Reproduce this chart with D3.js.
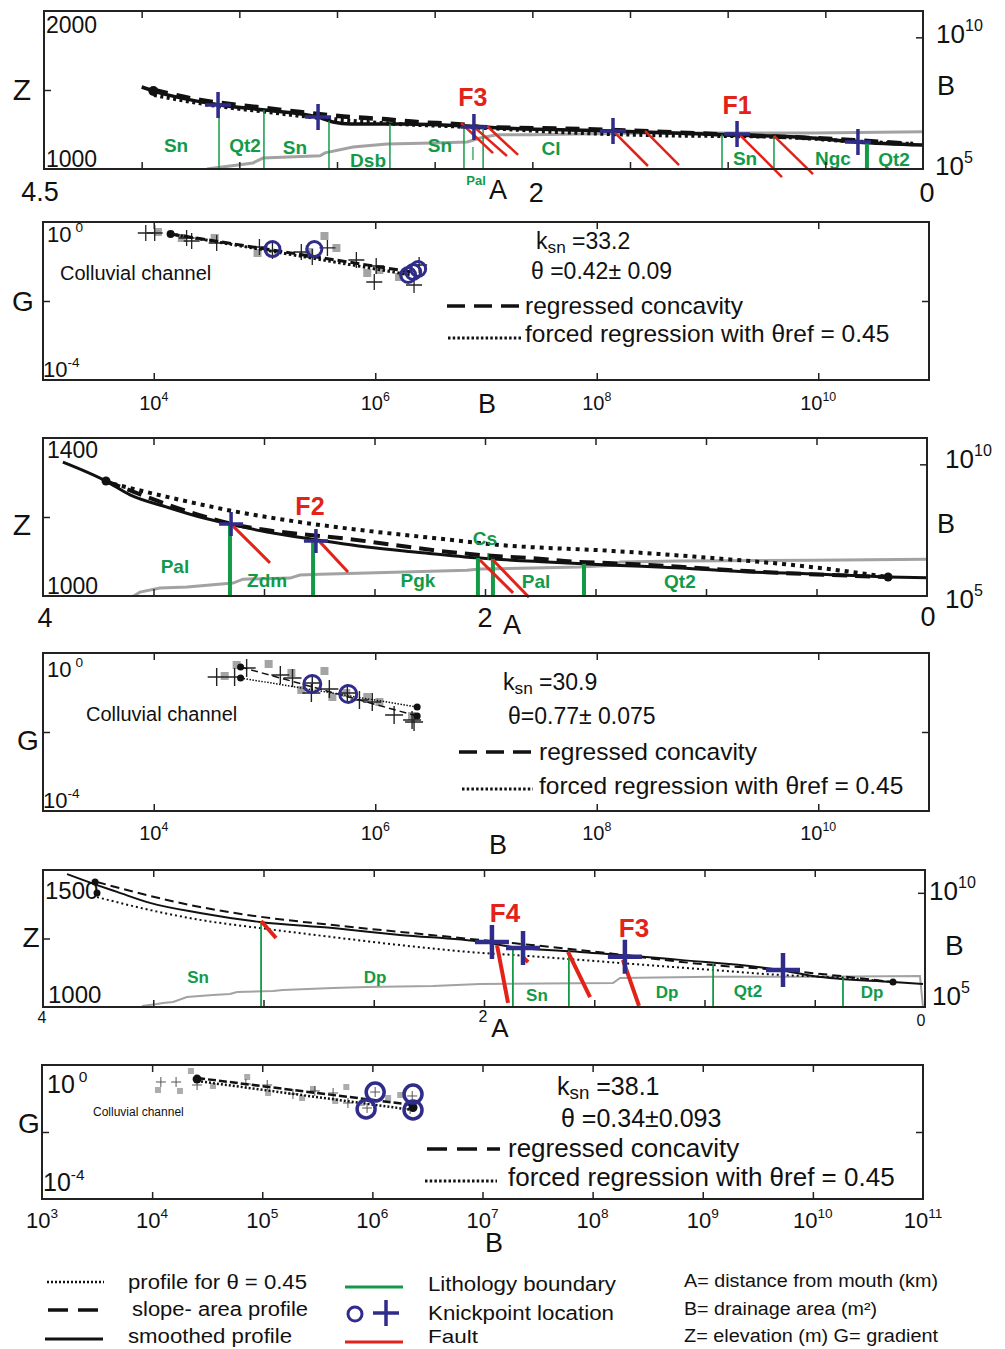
<!DOCTYPE html>
<html><head><meta charset="utf-8">
<script src="https://cdn.jsdelivr.net/npm/d3@7/dist/d3.min.js"></script>
<style>html,body{margin:0;padding:0;background:#fff}svg{display:block}</style>
</head><body>
<svg id="chart" width="1005" height="1349" xmlns="http://www.w3.org/2000/svg"></svg>
<script>
// ================= DATA =================
// ---- Profile 1 : [distance km, elevation m]  /  area: [distance km, drainage area m2]
const p1Smooth=[[4.0,1519],[3.94,1494],[3.60,1405],[3.37,1373],[3.08,1323],[3.02,1297],[2.93,1285],[2.67,1285],[2.33,1272],[2.17,1260],[1.59,1241],[0.96,1215],[0.57,1196],[0.34,1171],[0.0,1152]];
const p1Dashed=[[3.937,1500],[3.701,1437],[3.410,1392],[3.189,1361],[2.933,1329],[2.764,1316],[2.590,1297],[2.334,1278],[2.268,1266],[1.756,1253],[0.952,1215],[0.374,1184],[0.051,1158]];
const p1Dotted=[[3.937,1468],[3.614,1399],[3.358,1361],[3.087,1323],[2.846,1297],[2.334,1266],[1.756,1228],[1.413,1215],[0.732,1203],[0.389,1177],[0.051,1158]];
const p1Area=[[3.666,1.0e5],[3.430,1.7e5],[3.379,2.6e5],[3.087,3.2e5],[3.061,4.1e5],[2.918,6.9e5],[2.744,8.9e5],[2.509,9.8e5],[2.334,1.07e6],[2.268,1.51e6],[2.181,2.0e6],[2.012,2.0e6],[1.413,2.34e6],[0.563,2.34e6],[0.0,2.57e6]];
const p1Lith=[3.604,3.374,3.041,2.729,2.350,2.252,1.029,0.763,0.287];
const p1LithMinor=[[2.304,1139,1057]];
const p1LithLabels=[["Sn",3.824,1108],["Qt2",3.471,1108],["Sn",3.215,1095],["Dsb",2.841,1013],["Sn",2.473,1108],["Cl",1.904,1089],["Sn",0.911,1025],["Ngc",0.461,1025],["Qt2",0.148,1019]];
const p1SmallLabels=[["Pal",2.288,899]];
const p1Knick=[[3.609,1405],[3.097,1329],[2.299,1266],[1.587,1241],[0.952,1222],[0.333,1171]];
const p1Faults=[[2.365,1291,2.201,1101],[2.309,1278,2.130,1082],[2.232,1272,2.073,1089],[1.587,1241,1.408,1019],[1.423,1241,1.249,1025],[0.937,1215,0.722,949],[0.763,1209,0.563,968]];
const p1FaultLabels=[["F3",2.304,1399],["F1",0.952,1350]];
const p1Dots=[[3.94,1494]];

// ---- Slope-area 1 : [drainage area m2, gradient]
const p2Cross=[[8.47e3,0.527],[1.02e4,0.527],[1.98e4,0.394],[2.2e4,0.330],[3.7e4,0.294],[9.0e4,0.233],[1.18e5,0.185],[2.15e5,0.174],[2.7e5,0.130],[3.7e5,0.220],[6.75e5,0.109],[9.8e5,0.0303],[1.02e6,0.0769],[2.24e6,0.0254],[2.49e6,0.0815]];
const p2Square=[[1.09e4,0.558],[1.79e4,0.394],[3.55e4,0.394],[8.65e4,0.164],[2.54e5,0.174],[3.48e5,0.442],[4.46e5,0.220],[8.47e5,0.0512],[1.09e6,0.0610],[1.64e6,0.0405]];
const p2Circle=[[1.18e5,0.207],[2.82e5,0.207],[1.98e6,0.0455],[2.2e6,0.0542],[2.44e6,0.0646]];
const p2Dashed=[[1.42e4,0.497],[2.15e6,0.054]];
const p2Dotted=[[1.42e4,0.497],[2.15e6,0.045]];
const p2Dots=[[1.42e4,0.497]];
const p2Stats={ksn:"33.2",theta:"θ =0.42± 0.09"};

// ---- Profile 2
const p3Smooth=[[3.910,1339],[3.715,1291],[3.606,1256],[3.439,1225],[3.290,1200],[3.140,1180],[2.986,1162],[2.760,1142],[2.534,1124],[2.308,1111],[2.023,1096],[1.719,1086],[1.421,1078],[1.118,1071],[0.814,1061],[0.516,1056],[0.176,1048],[0.0,1046]];
const p3Dashed=[[3.715,1291],[3.140,1182],[2.611,1144],[2.023,1104],[1.796,1096],[1.570,1086],[1.421,1083],[1.118,1074],[0.814,1063],[0.176,1048]];
const p3Dotted=[[3.683,1284],[3.439,1251],[3.140,1215],[2.837,1187],[2.534,1165],[2.235,1147],[1.932,1129],[1.421,1114],[0.968,1096],[0.516,1073],[0.176,1048]];
const p3Area=[[3.593,9.5e4],[3.561,1.41e5],[3.471,2.0e5],[3.348,2.19e5],[3.140,3.09e5],[3.095,4.37e5],[2.882,4.79e5],[2.837,6.3e5],[2.747,6.76e5],[2.534,7.41e5],[2.081,9.55e5],[2.023,1.05e6],[1.570,1.26e6],[1.421,1.48e6],[1.389,1.95e6],[1.118,2.14e6],[0.516,2.29e6],[0.0,2.51e6]];
const p3Lith=[3.154,2.778,2.032,1.964,1.552];
const p3LithMinor=[[1.986,1109,1091]];
const p3LithLabels=[["Pal",3.403,1058],["Zdm",2.986,1023],["Pgk",2.303,1023],["Cs",2.0,1129],["Pal",1.769,1020],["Qt2",1.118,1020]];
const p3SmallLabels=[];
const p3Knick=[[3.149,1182],[2.765,1139]];
const p3Faults=[[3.140,1177,2.973,1084],[2.747,1137,2.620,1061],[2.023,1091,1.873,1008],[1.964,1091,1.801,997]];
const p3FaultLabels=[["F2",2.792,1205]];
const p3Dots=[[3.715,1291],[0.176,1048]];

// ---- Slope-area 2
const p4Cross=[[3.7e4,0.247],[5.37e4,0.247],[6.9e4,0.417],[1.39e5,0.277],[1.79e5,0.233],[2.65e5,0.0971],[2.7e5,0.174],[3.85e5,0.123],[5.6e5,0.0971],[7.2e5,0.0646],[9.4e5,0.0574],[1.48e6,0.0269],[2.15e6,0.0201],[2.24e6,0.0179]];
const p4Square=[[4.37e4,0.262],[5.6e4,0.497],[1.09e5,0.527],[1.75e5,0.312],[2.15e5,0.116],[3.48e5,0.350],[4.1e5,0.0769],[5.48e5,0.0971],[8.47e5,0.0769],[1.09e6,0.0574],[2.15e6,0.0254]];
const p4Circle=[[2.7e5,0.164],[5.7e5,0.0916]];
const p4Dashed=[[6.08e4,0.442],[2.39e6,0.0254]];
const p4Dotted=[[6.08e4,0.233],[2.39e6,0.0430]];
const p4Dots=[[6.08e4,0.442],[6.08e4,0.233],[2.39e6,0.0254],[2.39e6,0.0430]];
const p4Stats={ksn:"30.9",theta:"θ=0.77± 0.075"};

// ---- Profile 3
const p5Smooth=[[3.891,1485],[3.755,1445],[3.664,1420],[3.515,1380],[3.288,1343],[3.016,1310],[2.685,1288],[2.381,1263],[2.005,1237],[1.869,1219],[1.565,1201],[1.111,1172],[0.658,1135],[0.508,1113],[0.145,1091],[0.009,1084]];
const p5Dashed=[[3.755,1456],[3.288,1365],[3.002,1328],[2.685,1299],[2.381,1274],[2.018,1245],[1.565,1208],[0.961,1153],[0.658,1135],[0.145,1091]];
const p5Dotted=[[3.755,1401],[3.515,1354],[3.288,1318],[3.016,1288],[2.685,1255],[2.381,1226],[2.005,1197],[1.869,1190],[1.565,1172],[1.261,1153],[0.961,1135],[0.658,1117],[0.354,1106],[0.145,1091]];
const p5Area=[[3.551,1.1e5],[3.483,1.35e5],[3.456,1.51e5],[3.410,1.66e5],[3.347,2.75e5],[3.229,3.39e5],[3.152,3.72e5],[3.120,4.57e5],[2.957,5.0e5],[2.912,5.6e5],[2.685,6.8e5],[2.531,7.6e5],[2.231,8.3e5],[2.018,1.02e6],[1.415,1.12e6],[1.383,1.86e6],[0.961,2.09e6],[0.508,2.09e6],[0.023,2.29e6],[0.009,1.0e5]];
const p5Lith=[3.011,1.869,1.615,0.961,0.372];
const p5LithMinor=[];
const p5LithLabels=[["Sn",3.297,1088],["Dp",2.494,1088],["Sn",1.760,1022],["Dp",1.170,1033],["Qt2",0.803,1036],["Dp",0.240,1033]];
const p5SmallLabels=[];
const p5Knick=[[1.964,1237],[1.823,1215],[1.361,1183],[0.644,1135]];
const p5Faults=[[3.011,1314,2.943,1252],[1.941,1226,1.891,1015],[1.823,1182,1.800,1164],[1.619,1201,1.519,1036],[1.370,1172,1.297,1004]];
const p5FaultLabels=[["F4",1.905,1310],["F3",1.320,1255]];
const p5Dots=[[3.764,1456],[3.755,1416],[0.145,1091]];

// ---- Slope-area 3
const p6Cross=[[1.2e4,0.311],[1.65e4,0.311],[2.56e4,0.253],[7.1e4,0.271],[1.11e5,0.253],[1.9e5,0.136],[3.0e5,0.168],[4.4e5,0.146],[6.0e5,0.0734],[8.95e5,0.052],[1.06e6,0.156],[2.3e6,0.119],[2.2e6,0.0486]];
const p6Square=[[1.13e4,0.179],[1.79e4,0.168],[2.25e4,0.662],[3.57e4,0.236],[7.3e4,0.438],[1.13e5,0.146],[2.3e5,0.1035],[2.89e5,0.192],[4.6e5,0.0842],[5.8e5,0.220],[8.06e5,0.0734],[1.39e6,0.1035],[1.79e6,0.127]];
const p6Circle=[[1.06e6,0.156],[8.77e5,0.0486],[2.34e6,0.136],[2.34e6,0.0454]];
const p6Dashed=[[2.56e4,0.409],[2.34e6,0.064]];
const p6Dotted=[[2.56e4,0.333],[2.34e6,0.0454]];
const p6Dots=[[2.56e4,0.38],[2.34e6,0.054]];
const p6Stats={ksn:"38.1",theta:"θ =0.34±0.093"};

// ---- tick values
const profTicks1=[4,3.5,3,2.5,2,1.5,1,0.5];
const profTicks2=[3.5,3,2.5,2,1.5,1,0.5];
const saTicksEven=[1e4,1e6,1e8,1e10];
const saTicksAll=[1e4,1e5,1e6,1e7,1e8,1e9,1e10];
const saLabelsEven=[[1e4,"4"],[1e6,"6"],[1e8,"8"],[1e10,"10"]];
const saLabelsAll=[[1e3,"3"],[1e4,"4"],[1e5,"5"],[1e6,"6"],[1e7,"7"],[1e8,"8"],[1e9,"9"],[1e10,"10"],[1e11,"11"]];

// ================= DRAWING =================
const FONT='"Liberation Sans", Arial, Helvetica, sans-serif';
const COL={green:"#139a48",red:"#e2231a",navy:"#302c8a",gray:"#a2a2a2",ink:"#111",frame:"#222"};
const svg=d3.select("#chart");
svg.append("rect").attr("width",1005).attr("height",1349).attr("fill","#fff");
const defs=svg.append("defs");

function txt(g,x,y,s,o={}){
  const t=g.append("text").attr("x",x).attr("y",y).text(s)
    .attr("font-size",o.size||24).attr("fill",o.fill||COL.ink)
    .attr("text-anchor",o.anchor||"start").attr("font-family",FONT);
  if(o.weight)t.attr("font-weight",o.weight);
  if(o.len)t.attr("textLength",o.len).attr("lengthAdjust","spacingAndGlyphs");
  return t;
}
function pow(g,x,y,base,exp,size,o={}){
  const t=g.append("text").attr("x",x).attr("y",y).attr("font-size",size).attr("fill",COL.ink)
    .attr("text-anchor",o.anchor||"start").attr("font-family",FONT);
  t.append("tspan").text(base);
  t.append("tspan").attr("dx",o.gap||0).attr("dy",-size*0.45).attr("font-size",size*0.62).text(exp);
  return t;
}
function ticks(g,axisFn,scale,values,size,tx,ty,w){
  const a=g.append("g").attr("transform",`translate(${tx},${ty})`)
    .call(axisFn(scale).tickValues(values).tickSize(size).tickFormat(""));
  a.select(".domain").remove();
  a.selectAll("line").attr("stroke",COL.frame).attr("stroke-width",w||1.5);
  return a;
}
function interp(arr,d){
  for(let i=0;i<arr.length-1;i++){
    const a=arr[i],b=arr[i+1];
    if(d<=a[0]&&d>=b[0]){const t=(a[0]-d)/(a[0]-b[0]);return a[1]+t*(b[1]-a[1]);}
  }
  return arr[arr.length-1][1];
}
function crossPath(cx,cy,a){return `M${cx-a},${cy}H${cx+a}M${cx},${cy-a}V${cy+a}`;}

function profilePanel(P){
  const g=svg.append("g");
  const x=d3.scaleLinear().domain(P.xDom).range([P.x0,P.x1]);
  const z=d3.scaleLinear().domain(P.zDom).range([P.y1,P.y0]);
  const b=d3.scaleLog().domain([1e5,1e11]).range([P.y1,P.y0]);
  const cid="clip-"+P.id;
  defs.append("clipPath").attr("id",cid).append("rect")
    .attr("x",P.x0).attr("y",P.y0).attr("width",P.x1-P.x0).attr("height",P.y1-P.y0);
  const cl=g.append("g").attr("clip-path",`url(#${cid})`);
  cl.append("path").datum(P.area).attr("d",d3.line().x(d=>x(d[0])).y(d=>b(d[1])))
    .attr("fill","none").attr("stroke",COL.gray).attr("stroke-width",P.gw);
  P.lith.forEach((d,i)=>{
    g.append("line").attr("x1",x(d)).attr("x2",x(d))
      .attr("y1",z(interp(P.smooth,d))).attr("y2",z(P.zDom[0]))
      .attr("stroke",COL.green).attr("stroke-width",(P.thickLith||[]).includes(i)?P.lwThick:P.lw);
  });
  P.lithMinor.forEach(d=>{
    g.append("line").attr("x1",x(d[0])).attr("x2",x(d[0])).attr("y1",z(d[1])).attr("y2",z(d[2]))
      .attr("stroke",COL.green).attr("stroke-width",1.2);
  });
  const line=d3.line().x(d=>x(d[0])).y(d=>z(d[1])).curve(d3.curveMonotoneX);
  cl.append("path").datum(P.dotted).attr("d",line).attr("fill","none").attr("stroke",COL.ink)
    .attr("stroke-width",P.dotW).attr("stroke-dasharray",P.dotDash);
  cl.append("path").datum(P.dashed).attr("d",line).attr("fill","none").attr("stroke",COL.ink)
    .attr("stroke-width",P.dashW).attr("stroke-dasharray",P.dashDash);
  cl.append("path").datum(P.smooth).attr("d",line).attr("fill","none").attr("stroke",COL.ink)
    .attr("stroke-width",P.smW);
  g.selectAll(null).data(P.dots).join("circle").attr("cx",d=>x(d[0])).attr("cy",d=>z(d[1]))
    .attr("r",P.dotR).attr("fill",COL.ink);
  g.selectAll(null).data(P.faults).join("line")
    .attr("x1",d=>x(d[0])).attr("y1",d=>z(d[1])).attr("x2",d=>x(d[2])).attr("y2",d=>z(d[3]))
    .attr("stroke",COL.red).attr("stroke-width",P.fw);
  g.selectAll(null).data(P.knick).join("path").attr("d",d=>crossPath(x(d[0]),z(d[1]),P.ka))
    .attr("stroke",COL.navy).attr("stroke-width",P.kw).attr("fill","none");
  P.lithLabels.forEach(d=>txt(g,x(d[1]),z(d[2]),d[0],{size:P.labSize,fill:COL.green,weight:"bold",anchor:"middle"}));
  P.smallLabels.forEach(d=>txt(g,x(d[1]),z(d[2]),d[0],{size:13,fill:COL.green,weight:"bold",anchor:"middle"}));
  P.faultLabels.forEach(d=>txt(g,x(d[1]),z(d[2]),d[0],{size:P.fSize,fill:COL.red,weight:"bold",anchor:"middle"}));
  g.append("rect").attr("x",P.x0).attr("y",P.y0).attr("width",P.x1-P.x0).attr("height",P.y1-P.y0)
    .attr("fill","none").attr("stroke",COL.frame).attr("stroke-width",2);
  ticks(g,d3.axisBottom,x,P.xTicks,7,0,P.y0);
  ticks(g,d3.axisTop,x,P.xTicks,7,0,P.y1);
  ticks(g,d3.axisRight,z,[(P.zDom[0]+P.zDom[1])/2],7,P.x0,0);
  ticks(g,d3.axisLeft,b,[1e10],7,P.x1,0);
  return {g,x,z,b};
}

function saPanel(P){
  const g=svg.append("g");
  const x=d3.scaleLog().domain([1e3,1e11]).range([P.x0,P.x1]);
  const y=d3.scaleLog().domain([1e-4,1]).range([P.y1,P.y0]);
  g.selectAll(null).data(P.squares).join("rect")
    .attr("x",d=>x(d[0])-P.sq/2).attr("y",d=>y(d[1])-P.sq/2).attr("width",P.sq).attr("height",P.sq)
    .attr("fill",P.sqCol);
  g.selectAll(null).data(P.crosses).join("path").attr("d",d=>crossPath(x(d[0]),y(d[1]),P.ca))
    .attr("stroke",P.crCol).attr("stroke-width",P.cw).attr("fill","none");
  const line=d3.line().x(d=>x(d[0])).y(d=>y(d[1]));
  g.append("path").datum(P.dashed).attr("d",line).attr("fill","none").attr("stroke",COL.ink)
    .attr("stroke-width",P.lw).attr("stroke-dasharray",P.dashDash);
  g.append("path").datum(P.dotted).attr("d",line).attr("fill","none").attr("stroke",COL.ink)
    .attr("stroke-width",P.lw).attr("stroke-dasharray",P.dotDash);
  g.selectAll(null).data(P.dots).join("circle").attr("cx",d=>x(d[0])).attr("cy",d=>y(d[1]))
    .attr("r",P.dotR).attr("fill",COL.ink);
  g.selectAll(null).data(P.circles).join("circle").attr("cx",d=>x(d[0])).attr("cy",d=>y(d[1]))
    .attr("r",P.cr).attr("fill","none").attr("stroke",COL.navy).attr("stroke-width",P.cs);
  g.append("rect").attr("x",P.x0).attr("y",P.y0).attr("width",P.x1-P.x0).attr("height",P.y1-P.y0)
    .attr("fill","none").attr("stroke",COL.frame).attr("stroke-width",2);
  ticks(g,d3.axisBottom,x,P.xTicks,7,0,P.y0);
  ticks(g,d3.axisTop,x,P.xTicks,7,0,P.y1);
  ticks(g,d3.axisRight,y,[1e-2],7,P.x0,0);
  ticks(g,d3.axisLeft,y,[1e-2],7,P.x1,0);
  P.xLabels.forEach(d=>pow(g,x(d[0]),P.labY,"10",d[1],P.labSize,{anchor:"middle"}));
  return {g,x,y};
}

// ---------- Panel 1 ----------
{
  const P={id:1,x0:44,x1:923,y0:11,y1:169,xDom:[4.5,0],zDom:[1000,2000],
    smooth:p1Smooth,dashed:p1Dashed,dotted:p1Dotted,area:p1Area,lith:p1Lith,lithMinor:p1LithMinor,
    lithLabels:p1LithLabels,smallLabels:p1SmallLabels,knick:p1Knick,faults:p1Faults,faultLabels:p1FaultLabels,dots:p1Dots,
    xTicks:profTicks1,gw:3,lw:1.5,lwThick:4,thickLith:[8],smW:3.5,dashW:4.5,dashDash:"14,9",dotW:4,dotDash:"3,3.5",
    dotR:5,fw:2.5,ka:13,kw:3.5,labSize:19,fSize:25};
  const r=profilePanel(P),g=r.g;
  txt(g,22,100,"Z",{size:30,anchor:"middle"});
  txt(g,46,33,"2000",{size:23});
  txt(g,46,167,"1000",{size:23});
  txt(g,r.x(4.5)-4,201,"4.5",{size:27,anchor:"middle"});
  txt(g,r.x(2)+4,202,"2",{size:27,anchor:"middle"});
  txt(g,r.x(0)+4,202,"0",{size:27,anchor:"middle"});
  txt(g,498,199,"A",{size:27,anchor:"middle"});
  pow(g,936,43,"10","10",26);
  txt(g,937,95,"B",{size:27});
  pow(g,935,175,"10","5",26);
}
// ---------- shared slope-area texts ----------
function saText(g,T){
  pow(g,T.x0+4,T.top,"10","0",T.tick,{gap:4});
  pow(g,T.x0,T.bot,"10","-4",T.tick);
  txt(g,T.gx,T.gy,"G",{size:28,anchor:"middle"});
  txt(g,T.cx,T.cy,"Colluvial channel",{size:T.cs});
  txt(g,T.bx,T.by,"B",{size:27,anchor:"middle"});
  const k=g.append("text").attr("x",T.kx).attr("y",T.ky).attr("font-size",T.fs).attr("font-family",FONT).attr("fill",COL.ink);
  k.append("tspan").text("k");
  k.append("tspan").attr("dy",4).attr("font-size",T.fs*0.75).text("sn");
  k.append("tspan").attr("dy",-4).text(" ="+T.stats.ksn);
  txt(g,T.tx,T.ty,T.stats.theta,{size:T.fs});
  g.append("line").attr("x1",T.l1[0]).attr("x2",T.l1[1]).attr("y1",T.l1[2]).attr("y2",T.l1[2])
    .attr("stroke",COL.ink).attr("stroke-width",3.5).attr("stroke-dasharray",T.legDash);
  txt(g,T.l1[3],T.l1[4],"regressed concavity",{size:T.ls});
  g.append("line").attr("x1",T.l2[0]).attr("x2",T.l2[1]).attr("y1",T.l2[2]).attr("y2",T.l2[2])
    .attr("stroke",COL.ink).attr("stroke-width",3).attr("stroke-dasharray","2.5,2.2");
  txt(g,T.l2[3],T.l2[4],"forced regression with θref = 0.45",{size:T.ls});
}
// ---------- Panel 2 ----------
{
  const P={x0:43,x1:929,y0:222,y1:380,squares:p2Square,crosses:p2Cross,circles:p2Circle,dashed:p2Dashed,dotted:p2Dotted,dots:p2Dots,
    sq:8,sqCol:"#a4a4a4",ca:8,cw:1.3,crCol:"#222",lw:3,dashDash:"9,4",dotDash:"2.5,2.5",dotR:4,cr:7.5,cs:3,
    xTicks:saTicksEven,xLabels:saLabelsEven,labY:410,labSize:20};
  const r=saPanel(P);
  saText(r.g,{x0:43,top:242,bot:377,tick:22,gx:23,gy:311,cx:60,cy:280,cs:20,bx:487,by:413,
    kx:536,ky:249,fs:23,stats:p2Stats,tx:531,ty:279,legDash:"18,9",ls:24.5,
    l1:[447,521,306,525,314],l2:[448,521,338,525,342]});
}
// ---------- Panel 3 ----------
{
  const P={id:3,x0:43,x1:927,y0:438,y1:596,xDom:[4,0],zDom:[1000,1400],
    smooth:p3Smooth,dashed:p3Dashed,dotted:p3Dotted,area:p3Area,lith:p3Lith,lithMinor:p3LithMinor,
    lithLabels:p3LithLabels,smallLabels:p3SmallLabels,knick:p3Knick,faults:p3Faults,faultLabels:p3FaultLabels,dots:p3Dots,
    xTicks:profTicks2,gw:3,lw:4,lwThick:4,thickLith:[],smW:3,dashW:4,dashDash:"15,8",dotW:4,dotDash:"4,5",
    dotR:4.5,fw:3,ka:12,kw:3.5,labSize:19,fSize:25};
  const r=profilePanel(P),g=r.g;
  txt(g,22,535,"Z",{size:30,anchor:"middle"});
  txt(g,47,458,"1400",{size:23});
  txt(g,47,594,"1000",{size:23});
  txt(g,r.x(4)+2,627,"4",{size:27,anchor:"middle"});
  txt(g,r.x(2),627,"2",{size:27,anchor:"middle"});
  txt(g,r.x(0)+1,626,"0",{size:27,anchor:"middle"});
  txt(g,512,634,"A",{size:27,anchor:"middle"});
  pow(g,945,468,"10","10",26);
  txt(g,937,533,"B",{size:27});
  pow(g,945,608,"10","5",26);
}
// ---------- Panel 4 ----------
{
  const P={x0:43,x1:929,y0:653,y1:811,squares:p4Square,crosses:p4Cross,circles:p4Circle,dashed:p4Dashed,dotted:p4Dotted,dots:p4Dots,
    sq:8,sqCol:"#a4a4a4",ca:9,cw:1.4,crCol:"#222",lw:1.5,dashDash:"7,4",dotDash:"1.5,1.5",dotR:3.5,cr:8.5,cs:3,
    xTicks:saTicksEven,xLabels:saLabelsEven,labY:840,labSize:20};
  const r=saPanel(P);
  saText(r.g,{x0:43,top:677,bot:808,tick:22,gx:28,gy:750,cx:86,cy:721,cs:20,bx:498,by:854,
    kx:503,ky:690,fs:23,stats:p4Stats,tx:508,ty:724,legDash:"18,9",ls:24.5,
    l1:[459,531,752,539,760],l2:[462,533,789,539,794]});
}
// ---------- Panel 5 ----------
{
  const P={id:5,x0:43,x1:925,y0:870,y1:1007,xDom:[4,0],zDom:[1000,1500],
    smooth:p5Smooth,dashed:p5Dashed,dotted:p5Dotted,area:p5Area,lith:p5Lith,lithMinor:p5LithMinor,
    lithLabels:p5LithLabels,smallLabels:p5SmallLabels,knick:p5Knick,faults:p5Faults,faultLabels:p5FaultLabels,dots:p5Dots,
    xTicks:profTicks2,gw:2,lw:1.8,lwThick:1.8,thickLith:[],smW:2,dashW:2,dashDash:"9,5",dotW:2,dotDash:"2,3",
    dotR:3.5,fw:4,ka:17,kw:4.5,labSize:17,fSize:26};
  const r=profilePanel(P),g=r.g;
  txt(g,31,947,"Z",{size:28,anchor:"middle"});
  txt(g,45,899,"1500",{size:24});
  txt(g,48,1003,"1000",{size:24});
  txt(g,r.x(4)-1,1023,"4",{size:16,anchor:"middle"});
  txt(g,r.x(2)-1,1022,"2",{size:16,anchor:"middle"});
  txt(g,r.x(0)-4,1026,"0",{size:16,anchor:"middle"});
  txt(g,500,1037,"A",{size:26,anchor:"middle"});
  pow(g,929,900,"10","10",26);
  txt(g,945,955,"B",{size:28});
  pow(g,932,1005,"10","5",26);
}
// ---------- Panel 6 ----------
{
  const P={x0:42,x1:923,y0:1065,y1:1199,squares:p6Square,crosses:p6Cross,circles:p6Circle,dashed:p6Dashed,dotted:p6Dotted,dots:p6Dots,
    sq:6,sqCol:"#acacac",ca:5,cw:1,crCol:"#555",lw:2.5,dashDash:"8,3",dotDash:"2,2",dotR:4.5,cr:9,cs:3.5,
    xTicks:saTicksAll,xLabels:saLabelsAll,labY:1228,labSize:22};
  const r=saPanel(P);
  saText(r.g,{x0:43,top:1093,bot:1191,tick:25,gx:29,gy:1133,cx:93,cy:1116,cs:12,bx:494,by:1252,
    kx:557,ky:1095,fs:25,stats:p6Stats,tx:561,ty:1127,legDash:"20,10",ls:26,
    l1:[427,500,1149,508,1157],l2:[425,497,1181,508,1186]});
}
// ---------- Bottom legend ----------
{
  const g=svg.append("g");
  g.append("line").attr("x1",47).attr("x2",104).attr("y1",1282).attr("y2",1282).attr("stroke",COL.ink).attr("stroke-width",2.5).attr("stroke-dasharray","2,2");
  txt(g,128,1289,"profile for θ = 0.45",{size:20,len:179});
  g.append("line").attr("x1",48).attr("x2",98).attr("y1",1310).attr("y2",1310).attr("stroke",COL.ink).attr("stroke-width",3.5).attr("stroke-dasharray","20,10");
  txt(g,132,1316,"slope- area profile",{size:20,len:176});
  g.append("line").attr("x1",45).attr("x2",103).attr("y1",1339).attr("y2",1339).attr("stroke",COL.ink).attr("stroke-width",3);
  txt(g,128,1343,"smoothed profile",{size:20,len:164});
  g.append("line").attr("x1",345).attr("x2",403).attr("y1",1287).attr("y2",1287).attr("stroke",COL.green).attr("stroke-width",3);
  txt(g,428,1291,"Lithology boundary",{size:20,len:188});
  g.append("circle").attr("cx",355).attr("cy",1314).attr("r",7).attr("fill","none").attr("stroke",COL.navy).attr("stroke-width",3);
  g.append("path").attr("d",crossPath(386,1313,13)).attr("stroke",COL.navy).attr("stroke-width",3.5);
  txt(g,428,1320,"Knickpoint location",{size:20,len:186});
  g.append("line").attr("x1",345).attr("x2",403).attr("y1",1342).attr("y2",1342).attr("stroke",COL.red).attr("stroke-width",3);
  txt(g,428,1343,"Fault",{size:19,len:50});
  txt(g,684,1287,"A= distance from mouth (km)",{size:18,len:254});
  txt(g,684,1315,"B= drainage area (m²)",{size:18,len:193});
  txt(g,684,1342,"Z= elevation (m) G= gradient",{size:18,len:254});
}
</script>
</body></html>
